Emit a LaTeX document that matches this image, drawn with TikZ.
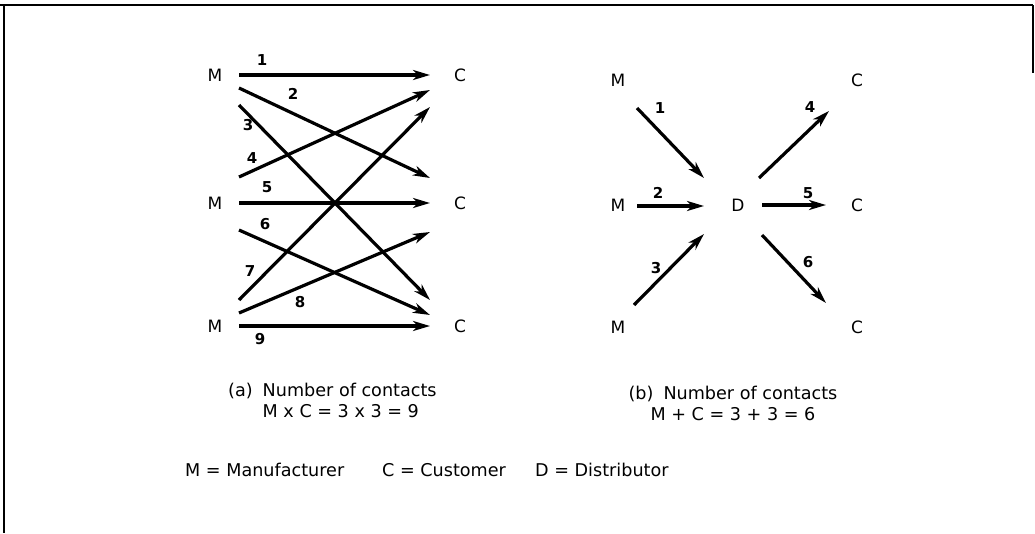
\documentclass[tikz,border=0pt]{standalone}
\usepackage{fontspec}
\setmainfont{DejaVu Sans}
\usetikzlibrary{positioning, arrows.meta}

\begin{document}
\begin{tikzpicture}[
    x=1pt, y=-1pt,
    %% party letters M, C, D
    party/.style={font=\fontsize{17}{19}\selectfont, inner sep=0pt},
    %% contact number on an arrow
    num/.style={font=\fontsize{15}{17}\selectfont\bfseries, inner sep=0pt},
    %% caption under each half
    capt/.style={font=\fontsize{17.6}{21}\selectfont, inner sep=0pt},
    %% contact arrow
    contact/.style={-{Stealth[length=17pt, width=10pt, inset=5pt]}, line width=3.2pt},
    %% outer frame
    frame/.style={line width=2.2pt}
]
\useasboundingbox (0,0) rectangle (1035,533);

%%-------------------------------------------------------------- frame
\draw[frame] (0,5) -- (1033,5);
\draw[frame] (4,5) -- (4,533);
\draw[frame] (1033,5) -- (1033,73);

%%-------------------------------------------------------------- (a) direct
\node[party] (ma1) at (215,75)  {M};
\node[party] (ma2) at (215,203) {M};
\node[party] (ma3) at (215,326) {M};
\node[party] (ca1) at (460,75)  {C};
\node[party] (ca2) at (460,203) {C};
\node[party] (ca3) at (460,326) {C};

% every M reaches every C: start and end of each contact
\foreach \i/\sy/\ey in {1/75/75, 2/88/178, 3/105/300,
                        4/177/90, 5/203/203, 6/230/315,
                        7/300/107, 8/313/232, 9/326/326} {
    \coordinate (as\i) at (239,\sy);
    \coordinate (ae\i) at (430,\ey);
}
\foreach \i in {1,...,9}
    \draw[contact] (as\i) -- (ae\i);

\foreach \i/\x/\y in {1/262/60, 2/293/94, 3/248/125, 4/252/158, 5/267/187,
                      6/265/224, 7/250/271, 8/300/302, 9/260/339}
    \node[num] (an\i) at (\x,\y) {\i};

\node[capt, anchor=west] (capa) at (228,403) {%
    \begin{tabular}{@{}l@{\hspace{10pt}}l@{}}
    (a) & Number of contacts\\
        & M x C = 3 x 3 = 9
    \end{tabular}};

%%-------------------------------------------------------------- (b) via distributor
\node[party] (mb1) at (618,80)  {M};
\node[party] (mb2) at (618,205) {M};
\node[party] (mb3) at (618,327) {M};
\node[party] (d)   at (738,205) {D};
\node[party] (cb1) at (857,80)  {C};
\node[party] (cb2) at (857,205) {C};
\node[party] (cb3) at (857,327) {C};

\coordinate (bs1) at (637,108);  \coordinate (be1) at (704,178);
\coordinate (bs2) at (637,206);  \coordinate (be2) at (704,206);
\coordinate (bs3) at (634,305);  \coordinate (be3) at (704,234);
\coordinate (bs4) at (759,178);  \coordinate (be4) at (829,111);
\coordinate (bs5) at (762,205);  \coordinate (be5) at (826,205);
\coordinate (bs6) at (762,235);  \coordinate (be6) at (826,303);

\foreach \i in {1,...,6}
    \draw[contact] (bs\i) -- (be\i);

\foreach \i/\x/\y in {1/660/108, 2/658/193, 3/656/268,
                      4/810/107, 5/808/193, 6/808/262}
    \node[num] (bn\i) at (\x,\y) {\i};

\node[capt, align=center] (capb) at (733,403)
    {(b)\hspace{10pt}Number of contacts\\M + C = 3 + 3 = 6};

%%-------------------------------------------------------------- legend
\node[capt, anchor=west] (legm) at (185,470) {M = Manufacturer};
\node[capt, anchor=west] (legc) at (382,470) {C = Customer};
\node[capt, anchor=west] (legd) at (535,470) {D = Distributor};

\end{tikzpicture}
\end{document}
